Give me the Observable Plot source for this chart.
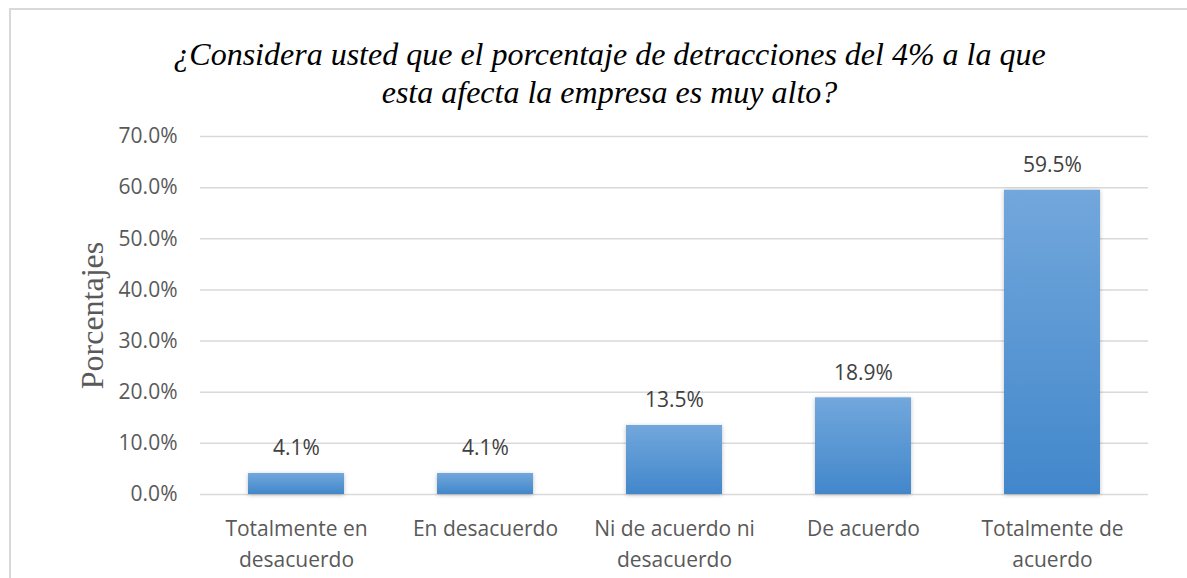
<!DOCTYPE html>
<html><head><meta charset="utf-8">
<script src="https://cdn.jsdelivr.net/npm/d3@7"></script>
<script src="https://cdn.jsdelivr.net/npm/@observablehq/plot@0.6"></script>
<style>
body{margin:0;background:#fff;overflow:hidden}
#wrap{position:relative;width:1187px;height:578px;overflow:hidden}
#border{position:absolute;left:9px;top:8px;width:2000px;height:2000px;border-left:2px solid #d9d9d9;border-top:2px solid #d9d9d9}
#chart{position:absolute;left:0;top:0}
</style></head><body>
<div id="wrap"><div id="border"></div><div id="chart"></div></div>
<script>
const categories = ["Totalmente en desacuerdo", "En desacuerdo", "Ni de acuerdo ni desacuerdo", "De acuerdo", "Totalmente de acuerdo"];
const tickLabels = ["Totalmente en\ndesacuerdo", "En desacuerdo", "Ni de acuerdo ni\ndesacuerdo", "De acuerdo", "Totalmente de\nacuerdo"];
const values = [0.041, 0.041, 0.135, 0.189, 0.595];
const yTicks = [0, 0.1, 0.2, 0.3, 0.4, 0.5, 0.6, 0.7];
const title = "¿Considera usted que el porcentaje de detracciones del 4% a la que\nesta afecta la empresa es muy alto?";
const yLabel = "Porcentajes";

const data = categories.map((c, i) => ({category: c, value: values[i]}));
const pct = d3.format(".1%");

const defs = () => {
  const d = d3.create("svg:defs");
  const g = d.append("linearGradient").attr("id", "barGrad").attr("x1", 0).attr("y1", 0).attr("x2", 0).attr("y2", 1);
  g.append("stop").attr("offset", "0%").attr("stop-color", "#72a7dc");
  g.append("stop").attr("offset", "100%").attr("stop-color", "#4287cb");
  const f = d.append("filter").attr("id", "shadow").attr("x", "-20%").attr("y", "-20%").attr("width", "140%").attr("height", "140%");
  f.append("feDropShadow").attr("dx", 0).attr("dy", 1).attr("stdDeviation", 2).attr("flood-color", "#000").attr("flood-opacity", 0.25);
  return d.node();
};

const plot = Plot.plot({
  width: 1187, height: 578,
  marginLeft: 200, marginRight: 39, marginTop: 136, marginBottom: 84,
  style: {background: "transparent", fontFamily: "'Open Sans', sans-serif"},
  x: {domain: categories, paddingInner: 0.494, paddingOuter: 0.247, label: null, axis: null},
  y: {domain: [0, 0.7], label: null, axis: null},
  marks: [
    defs,
    Plot.gridY(yTicks, {stroke: "#d9d9d9", strokeOpacity: 1, strokeWidth: 1.5}),
    Plot.barY(data, {x: "category", y: "value", fill: "url(#barGrad)"}),
    Plot.axisY(yTicks, {tickFormat: pct, tickSize: 0, tickPadding: 23, fontSize: 21, color: "#595959", label: null}),
    Plot.axisX({tickFormat: d => tickLabels[categories.indexOf(d)], tickSize: 0, tickPadding: 20, fontSize: 21, lineHeight: 1.45, color: "#595959", label: null}),
    Plot.text(data, {x: "category", y: "value", text: d => pct(d.value), dy: -25, fontSize: 21, fill: "#404040"}),
    Plot.text([title], {frameAnchor: "top", lineAnchor: "top", dx: -65, dy: -99, fontSize: 32, fontFamily: "'Liberation Serif', 'Times New Roman', serif", fontStyle: "italic", lineHeight: 1.19, fill: "#000"}),
    Plot.text([yLabel], {frameAnchor: "left", textAnchor: "middle", rotate: -90, dx: -108, fontSize: 32, fontFamily: "'Liberation Serif', 'Times New Roman', serif", fill: "#595959"})
  ]
});
d3.select(plot).selectAll("g[aria-label='bar'] rect").attr("filter", "url(#shadow)");
document.getElementById("chart").appendChild(plot);
</script>
</body></html>
